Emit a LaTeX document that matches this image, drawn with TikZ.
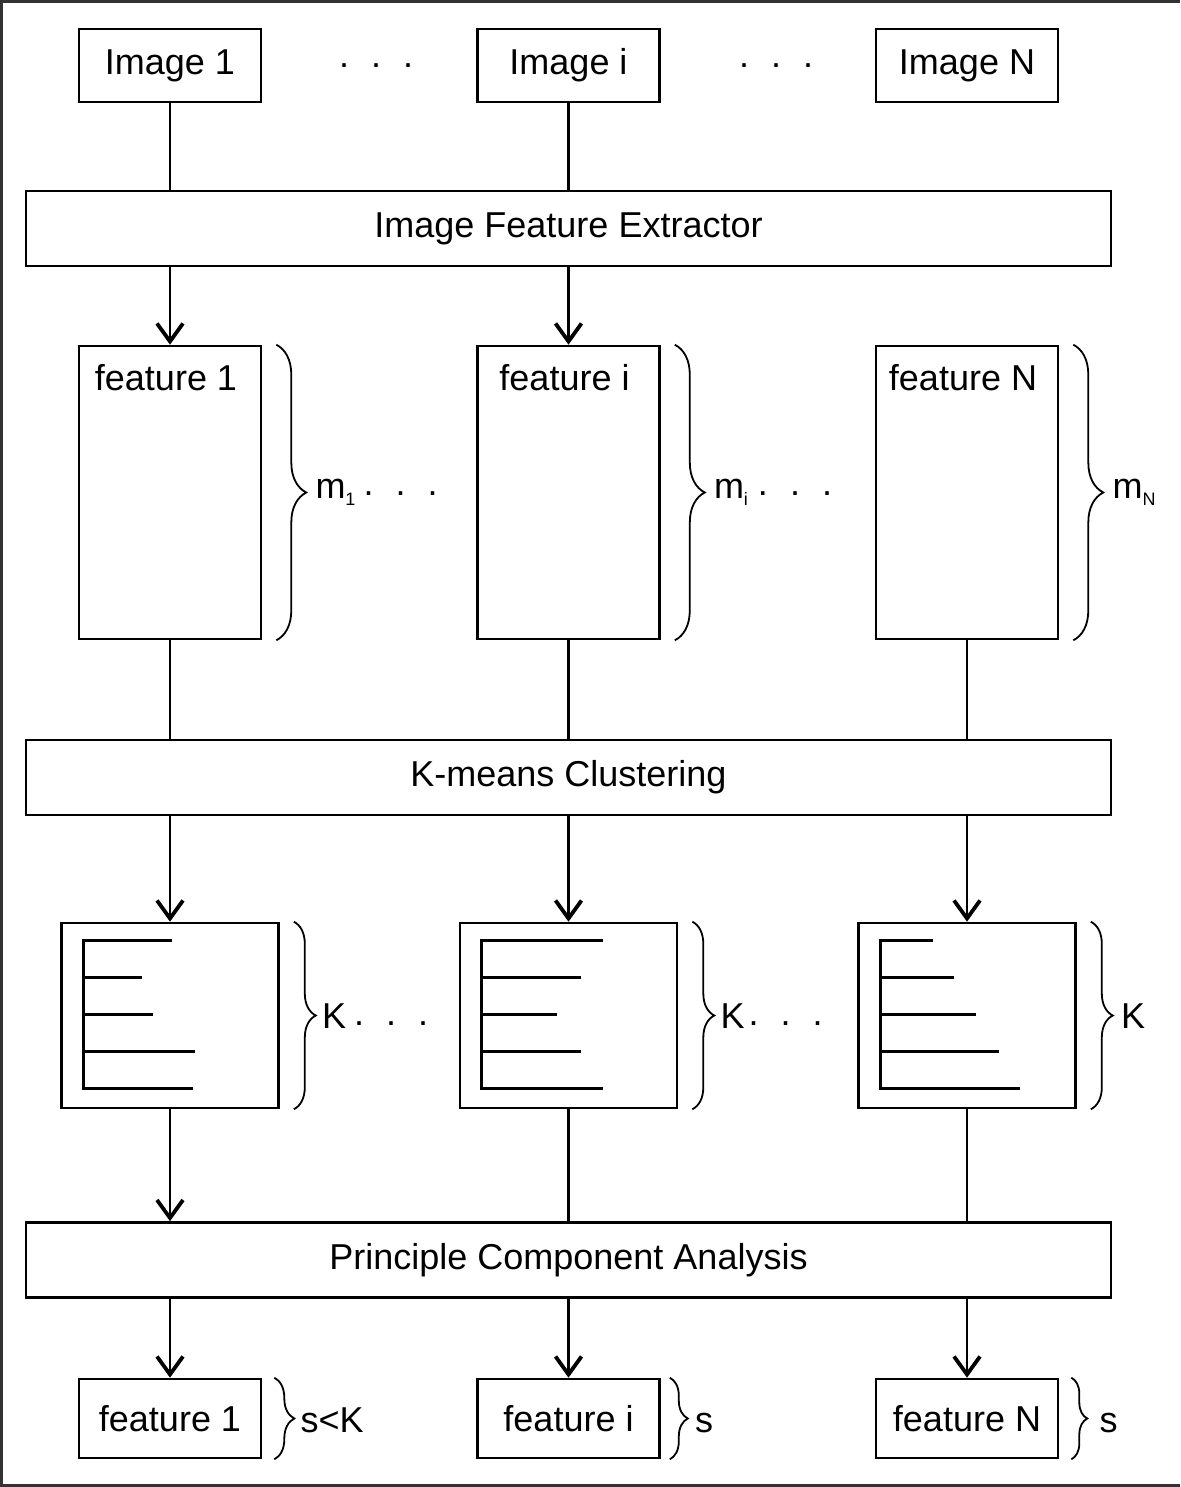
\documentclass[tikz,border=0pt]{standalone}
\usepackage{fontspec}
\setmainfont{Liberation Sans}
\usetikzlibrary{arrows.meta,positioning,calc,decorations.pathreplacing}
\newcommand{\bigtxt}{\fontsize{36}{43}\selectfont}
\newcommand{\lowsub}[1]{\raisebox{-7pt}{\fontsize{18}{18}\selectfont #1}}
\newcommand{\gapdots}{\raisebox{3pt}{.}\hspace{22pt}\raisebox{3pt}{.}\hspace{22pt}\raisebox{3pt}{.}}
\tikzset{
  box/.style={draw, line width=2.6pt, inner sep=0pt, font=\bigtxt},
  imgbox/.style={box, minimum width=182pt, minimum height=73pt},
  tallbox/.style={box, minimum width=182pt, minimum height=293pt},
  histbox/.style={box, minimum width=217pt, minimum height=185pt},
  outbox/.style={box, minimum width=182pt, minimum height=79pt},
  stage/.style={box, minimum width=1085pt, minimum height=75pt},
  txt/.style={font=\bigtxt, inner sep=0pt},
  ln/.style={line width=2.2pt},
  arr/.style={line width=2.2pt, -{Straight Barb[length=18pt,width=26pt,line width=3.8pt]}},
  bar/.style={line width=2.8pt},
  brc/.style={line width=1.8pt, decorate},
}
\begin{document}
\begin{tikzpicture}[x=1pt,y=-1pt]
  \useasboundingbox (0,0) rectangle (1180,1487);
  % frame, open on the right
  \draw[line width=3pt, black!80] (1180,1.5) -- (1.5,1.5) -- (1.5,1485.5) -- (1180,1485.5);

  % input images
  \node[imgbox] (img1) at (170,65.5)   {Image 1};
  \node[imgbox] (imgi) at (568.5,65.5) {Image i};
  \node[imgbox] (imgN) at (967,65.5)   {Image N};
  \node[txt] (dotsl) at (376,67) {\gapdots};
  \node[txt] (dotsr) at (776,67) {\gapdots};

  % processing stages
  \node[stage] (ext) at (568.5,228.5) {Image Feature Extractor};
  \node[stage] (km)  at (568.5,777.5) {K-means Clustering};
  \node[stage] (pca) at (568.5,1260)  {Principle Component Analysis};

  % extracted features
  \node[tallbox] (feat1) at (170,492.5)   {};
  \node[tallbox] (feati) at (568.5,492.5) {};
  \node[tallbox] (featN) at (967,492.5)   {};
  \node[txt, anchor=base] (flab1) at ([xshift=-4pt,yshift=-46pt]feat1.north) {feature 1};
  \node[txt, anchor=base] (flabi) at ([xshift=-4pt,yshift=-46pt]feati.north) {feature i};
  \node[txt, anchor=base] (flabN) at ([xshift=-4pt,yshift=-46pt]featN.north) {feature N};
  \draw[brc, decoration={brace,amplitude=30pt}] ([xshift=14pt]feat1.north east) -- ([xshift=14pt]feat1.south east);
  \draw[brc, decoration={brace,amplitude=30pt}] ([xshift=14pt]feati.north east) -- ([xshift=14pt]feati.south east);
  \draw[brc, decoration={brace,amplitude=30pt}] ([xshift=14pt]featN.north east) -- ([xshift=14pt]featN.south east);
  \node[txt, anchor=base west] (m1) at ([xshift=53pt,yshift=-6pt]feat1.east) {m\lowsub{1}\hspace{8pt}\gapdots};
  \node[txt, anchor=base west] (mi) at ([xshift=53pt,yshift=-6pt]feati.east) {m\lowsub{i}\hspace{10pt}\gapdots};
  \node[txt, anchor=base west] (mN) at ([xshift=53pt,yshift=-6pt]featN.east) {m\lowsub{N}};

  % cluster histograms
  \node[histbox] (h1) at (170,1015.5)   {};
  \node[histbox] (hi) at (568.5,1015.5) {};
  \node[histbox] (hN) at (967,1015.5)   {};
  \draw[bar] ($(h1.north west)+(112,19)$) -- ++(-89,0) -- ++(0,148) -- ++(110,0)
    ++(-110,-37) -- ++(112,0) ++(-112,-37) -- ++(70,0) ++(-70,-37) -- ++(59,0);
  \draw[bar] ($(hi.north west)+(144,19)$) -- ++(-121,0) -- ++(0,148) -- ++(121,0)
    ++(-121,-37) -- ++(99,0) ++(-99,-37) -- ++(75,0) ++(-75,-37) -- ++(99,0);
  \draw[bar] ($(hN.north west)+(76,19)$) -- ++(-53,0) -- ++(0,148) -- ++(140,0)
    ++(-140,-37) -- ++(119,0) ++(-119,-37) -- ++(96,0) ++(-96,-37) -- ++(74,0);
  \draw[brc, decoration={brace,amplitude=22pt}] ([xshift=14pt]h1.north east) -- ([xshift=14pt]h1.south east);
  \draw[brc, decoration={brace,amplitude=22pt}] ([xshift=14pt]hi.north east) -- ([xshift=14pt]hi.south east);
  \draw[brc, decoration={brace,amplitude=22pt}] ([xshift=14pt]hN.north east) -- ([xshift=14pt]hN.south east);
  \node[txt, anchor=base west] (k1) at ([xshift=42pt,yshift=-12.5pt]h1.east) {K\hspace{8pt}\gapdots};
  \node[txt, anchor=base west] (ki) at ([xshift=42pt,yshift=-12.5pt]hi.east) {K\hspace{4pt}\gapdots};
  \node[txt, anchor=base west] (kN) at ([xshift=44pt,yshift=-12.5pt]hN.east) {K};

  % reduced features
  \node[outbox] (out1) at (170,1418.5)   {feature 1};
  \node[outbox] (outi) at (568.5,1418.5) {feature i};
  \node[outbox] (outN) at (967,1418.5)   {feature N};
  \draw[brc, decoration={brace,amplitude=20pt}] ([xshift=12pt]out1.north east) -- ([xshift=12pt]out1.south east);
  \draw[brc, decoration={brace,amplitude=18pt}] ([xshift=9pt]outi.north east) -- ([xshift=9pt]outi.south east);
  \draw[brc, decoration={brace,amplitude=16pt}] ([xshift=12pt]outN.north east) -- ([xshift=12pt]outN.south east);
  \node[txt, anchor=base west] (s1) at ([xshift=38pt,yshift=-13.5pt]out1.east) {s<K};
  \node[txt, anchor=base west] (si) at ([xshift=34pt,yshift=-13.5pt]outi.east) {s};
  \node[txt, anchor=base west] (sN) at ([xshift=40pt,yshift=-13.5pt]outN.east) {s};

  % connectors
  \draw[ln] (img1.south) -- (img1.south |- ext.north);
  \draw[ln] (imgi.south) -- (imgi.south |- ext.north);
  \draw[arr] (ext.south -| feat1.north) -- (feat1.north);
  \draw[arr] (ext.south -| feati.north) -- (feati.north);
  \draw[ln] (feat1.south) -- (feat1.south |- km.north);
  \draw[ln] (feati.south) -- (feati.south |- km.north);
  \draw[ln] (featN.south) -- (featN.south |- km.north);
  \draw[arr] (km.south -| h1.north) -- (h1.north);
  \draw[arr] (km.south -| hi.north) -- (hi.north);
  \draw[arr] (km.south -| hN.north) -- (hN.north);
  \draw[arr] (h1.south) -- (h1.south |- pca.north);
  \draw[ln] (hi.south) -- (hi.south |- pca.north);
  \draw[ln] (hN.south) -- (hN.south |- pca.north);
  \draw[arr] (pca.south -| out1.north) -- (out1.north);
  \draw[arr] (pca.south -| outi.north) -- (outi.north);
  \draw[arr] (pca.south -| outN.north) -- (outN.north);
\end{tikzpicture}
\end{document}
